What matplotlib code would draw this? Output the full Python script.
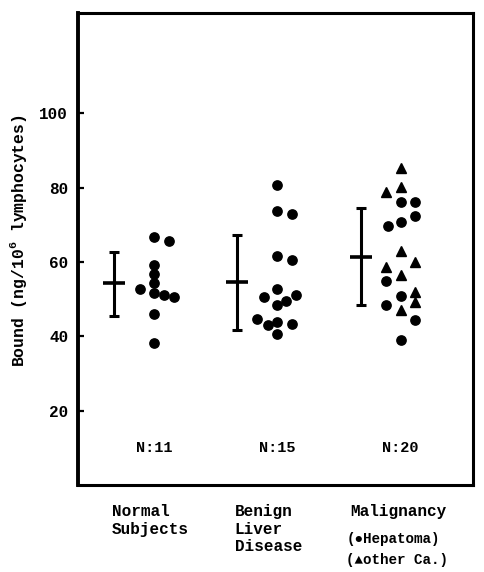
import matplotlib
matplotlib.use('Agg')
import matplotlib.pyplot as plt
import numpy as np

INK = '#000000'
MONO = ['Liberation Mono', 'DejaVu Sans Mono']

plt.rcParams.update({
    'font.family': MONO,
    'font.weight': 'bold',
    'mathtext.fontset': 'custom',
    'mathtext.rm': 'Liberation Mono:bold',
    'mathtext.bf': 'Liberation Mono:bold',
})

# groups
groups = ['Normal\nSubjects', 'Benign\nLiver\nDisease', 'Malignancy']
n_labels = ['N:11', 'N:15', 'N:20']

# mean bar with range
means = [54.3, 54.7, 61.4]
upper = [62.6, 67.2, 74.6]
lower = [45.5, 41.7, 48.3]

# individual values, circles (hepatoma / all for the first two groups)
normal_vals = [66.6, 65.6, 59.2, 56.9, 54.3, 51.6, 52.7, 51.1, 50.7, 46.0, 38.3]
normal_col = [0, 1.0, 0, 0, 0, 0, -1.0, 0.7, 1.4, 0, 0]

benign_vals = [80.6, 73.7, 72.8, 61.7, 60.5, 52.7, 50.7, 51.1, 49.6, 48.4,
               44.7, 43.1, 43.8, 43.4, 40.7]
benign_col = [0, 0, 1.0, 0, 1.0, 0, -0.9, 1.25, 0.6, 0,
              -1.4, -0.65, 0, 1.0, 0]

hepatoma_vals = [76.1, 76.1, 72.3, 69.6, 70.8, 55.0, 50.9, 48.3, 44.4, 39.1]
hepatoma_col = [0, 1.0, 1.0, -0.9, 0, -1.0, 0, -1.0, 1.0, 0]

other_ca_vals = [85.4, 80.2, 78.8, 63.0, 60.1, 58.7, 56.4, 52.0, 49.3, 47.1]
other_ca_col = [0, 0, -1.0, 0, 1.0, -1.0, 0, 1.0, 1.0, 0]

yticks = [20, 40, 60, 80, 100]

# layout
pos = np.arange(len(groups))
DOT_SHIFT = 0.325
STEP = 0.118

fig = plt.figure(figsize=(4.85, 5.72), dpi=100)
ax = fig.add_axes([0.1608, 0.1521, 0.8144, 0.8252])

# mean +/- range bars
for p, m, lo, hi in zip(pos, means, lower, upper):
    ax.errorbar(p, m, yerr=[[m - lo], [hi - m]], fmt='none', ecolor=INK,
                elinewidth=2.2, capsize=3.6, capthick=2.2)
    ax.plot(p, m, marker='_', markersize=16, mew=2.6, color=INK)

def dots(p, vals, cols, marker, ms):
    x = p + DOT_SHIFT + STEP * np.asarray(cols)
    ax.plot(x, vals, linestyle='none', marker=marker, markersize=ms,
            color=INK, mec=INK)

dots(pos[0], normal_vals, normal_col, 'o', 6.7)
dots(pos[1], benign_vals, benign_col, 'o', 6.7)
dots(pos[2], hepatoma_vals, hepatoma_col, 'o', 6.7)
dots(pos[2], other_ca_vals, other_ca_col, '^', 7.2)

for p, lab in zip(pos, n_labels):
    ax.text(p + DOT_SHIFT, 10, lab, ha='center', va='center', fontsize=11)

ax.set_xlim(-0.292, 2.912)
ax.set_ylim(0, 127)
ax.set_xticks([])
ax.set_yticks(yticks)
ax.set_yticklabels([str(t) for t in yticks], fontsize=11.5, fontweight='bold')
ax.tick_params(axis='y', direction='in', length=4, width=1.6, pad=7)

for side, sp in ax.spines.items():
    sp.set_linewidth(2.2)
ax.spines['left'].set_linewidth(2.8)

# category labels under the box
label_x = [-0.02, 0.98, 1.92]
for x, lab in zip(label_x, groups):
    ax.text(x, -5.2, lab, ha='left', va='top', fontsize=11.5,
            linespacing=1.2, clip_on=False)

ax.text(1.886, -14.4, '(\u25cfHepatoma)', ha='left', va='center',
        fontsize=10.3, clip_on=False)
ax.text(1.886, -20.3, '(\u25b2other Ca.)', ha='left', va='center',
        fontsize=10.3, clip_on=False)

fig.text(19 / 485, 1 - 241 / 572, r'Bound (ng/10$^{6}$ lymphocytes)',
         rotation=90, ha='center', va='center', fontsize=11.8)

fig.savefig('out.png', dpi=100)
